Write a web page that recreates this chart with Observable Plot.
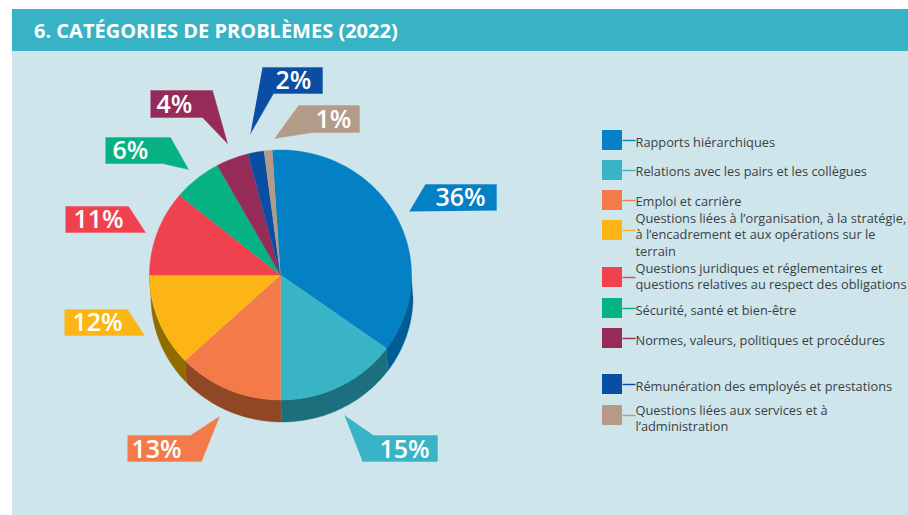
<!DOCTYPE html>
<html lang="fr">
<head>
<meta charset="utf-8">
<title>Catégories de problèmes (2022)</title>
<script src="https://cdn.jsdelivr.net/npm/d3@7"></script>
<script src="https://cdn.jsdelivr.net/npm/@observablehq/plot@0.6"></script>
<style>
  html, body { margin: 0; background: #fff; overflow: hidden; }
  svg { display: block; }
</style>
</head>
<body>
<div id="chart"></div>
<script>
// Survey shares, in the clockwise order of the slices.
const categories = [
  "Rapports hiérarchiques",
  "Relations avec les pairs et les collègues",
  "Emploi et carrière",
  "Questions liées à l’organisation, à la stratégie,\nà l’encadrement et aux opérations sur le\nterrain",
  "Questions juridiques et réglementaires et\nquestions relatives au respect des obligations",
  "Sécurité, santé et bien-être",
  "Normes, valeurs, politiques et procédures",
  "Rémunération des employés et prestations",
  "Questions liées aux services et à\nl’administration"
];
const shares = [36, 15, 13, 12, 11, 6, 4, 2, 1];

// Palette: top face, then the darker rim of the slices that show one.
const faceColors = ["#0480c5", "#38b4c6", "#f47a4a", "#fdb515", "#f0414f", "#04b283", "#962b58", "#0a4ea3", "#b49b88"];
const rimColors = ["#005c95", "#1c6f7d", "#8f4724", "#8f6b00", "#8f2630", "#046a4e", "#5a1a35", "#062e61", "#6c5d52"];

// Pie geometry in page pixels.
const pie = {cx: 280, cy: 274.5, rx: 131, ry: 125, depth: 22, shift: 1.5, start: -3.6};

// Callout outlines and label anchors, one per slice.
const callouts = [
  {label: [460, 197], outline: [[409, 211], [425, 184], [496, 184], [496, 210]]},
  {label: [404, 449], outline: [[344, 415], [373, 435], [437, 435], [437, 461], [362, 461]]},
  {label: [156, 449], outline: [[127, 435], [190, 435], [219, 416], [201, 461], [127, 461]]},
  {label: [97, 322], outline: [[64, 309], [127, 309], [144, 335], [64, 335]]},
  {label: [98, 219], outline: [[65, 206], [128, 206], [145, 232], [65, 232]]},
  {label: [130, 150], outline: [[105, 137], [170, 137], [188, 169], [162, 163], [105, 163]]},
  {label: [174, 104], outline: [[150, 90], [212, 90], [227, 143], [202, 117], [150, 117]]},
  {label: [293, 80], outline: [[262, 67], [322, 67], [322, 93], [273, 93], [250, 133]]},
  {label: [333, 119], outline: [[298, 105], [359, 105], [359, 132], [312, 132], [274, 138]]}
];

// Legend rows: top of the swatch and vertical centre of the text block.
const legendSwatchTop = [130, 160, 190, 220, 267, 298, 328, 374, 405];
const legendTextY = [141.5, 170.5, 200, 233.5, 275, 309.5, 339.5, 385.5, 417.5];

const FONT = "'Open Sans', sans-serif";
const toRad = Math.PI / 180;

// Angles are clockwise from twelve o'clock, as on a clock face.
const rimPoint = (deg, dx = 0, dy = 0) => ({
  x: pie.cx + dx + pie.rx * Math.sin(deg * toRad),
  y: pie.cy + dy - pie.ry * Math.cos(deg * toRad)
});

function sweep(a0, a1) {
  const n = Math.max(2, Math.ceil(Math.abs(a1 - a0)));
  return d3.range(n + 1).map((i) => a0 + ((a1 - a0) * i) / n);
}

const total = d3.sum(shares);
let running = pie.start;
const slices = shares.map((v, i) => {
  const a0 = running;
  running += (v / total) * 360;
  return {i, a0, a1: running};
});

const facePoints = slices.flatMap(({i, a0, a1}) => [
  {x: pie.cx, y: pie.cy},
  ...sweep(a0, a1).map((a) => rimPoint(a))
].map((p) => ({...p, z: i, fill: faceColors[i]})));

// The rim is only visible on the lower half of the ellipse.
const rimPoints = slices.flatMap(({i, a0, a1}) => {
  const lo = Math.max(a0, 90), hi = Math.min(a1, 270);
  if (hi <= lo) return [];
  return [
    ...sweep(lo, hi).map((a) => rimPoint(a)),
    ...sweep(hi, lo).map((a) => rimPoint(a, pie.shift, pie.depth))
  ].map((p) => ({...p, z: i, fill: rimColors[i]}));
});

const calloutPoints = callouts.flatMap((c, i) =>
  c.outline.map(([x, y]) => ({x, y, z: i, fill: faceColors[i]}))
);
const calloutLabels = callouts.map((c, i) => ({x: c.label[0], y: c.label[1], text: `${shares[i]}%`}));

const legend = categories.map((name, i) => ({
  name,
  fill: faceColors[i],
  top: legendSwatchTop[i],
  textY: legendTextY[i]
}));

const filledShape = (data) => Plot.line(data, {
  x: "x", y: "y", z: "z", fill: "fill", stroke: "fill", strokeWidth: 0.4
});

const chart = Plot.plot({
  width: 908,
  height: 515,
  margin: 0,
  style: {background: "#fff", fontFamily: FONT},
  x: {domain: [0, 908], range: [0, 908], axis: null},
  y: {domain: [0, 515], range: [0, 515], axis: null},
  color: {type: "identity"},
  marks: [
    // Panel and title band
    Plot.rect([{x1: 12, x2: 908, y1: 9, y2: 515}], {x1: "x1", x2: "x2", y1: "y1", y2: "y2", fill: "#cfe5ec"}),
    Plot.rect([{x1: 12, x2: 908, y1: 9, y2: 51}], {x1: "x1", x2: "x2", y1: "y1", y2: "y2", fill: "#38b3c6"}),
    Plot.text(["6. CATÉGORIES DE PROBLÈMES (2022)"], {
      x: () => 33.5, y: () => 31.5, text: (d) => d, textAnchor: "start", lineAnchor: "middle",
      fill: "#fff", fontSize: 20, fontWeight: 700, fontFamily: FONT
    }),

    // Pie
    filledShape(rimPoints),
    filledShape(facePoints),

    // Callouts with the percentages
    filledShape(calloutPoints),
    Plot.text(calloutLabels, {
      x: "x", y: "y", text: "text", fill: "#fff", fontSize: 25, fontWeight: 600,
      fontFamily: FONT, lineAnchor: "middle"
    }),

    // Legend
    Plot.rect(legend, {
      x1: () => 602, x2: () => 622, y1: "top", y2: (d) => d.top + 20, fill: "fill"
    }),
    Plot.link(legend, {
      x1: () => 622, x2: () => 635, y1: (d) => d.top + 10, y2: (d) => d.top + 10,
      stroke: "fill", strokeWidth: 1.4
    }),
    Plot.text(legend, {
      x: () => 635, y: "textY", text: "name", textAnchor: "start", lineAnchor: "middle",
      fill: "#3a3f42", fontSize: 12.8, lineHeight: 1.28, fontFamily: FONT
    })
  ]
});

document.getElementById("chart").append(chart);
</script>
</body>
</html>
